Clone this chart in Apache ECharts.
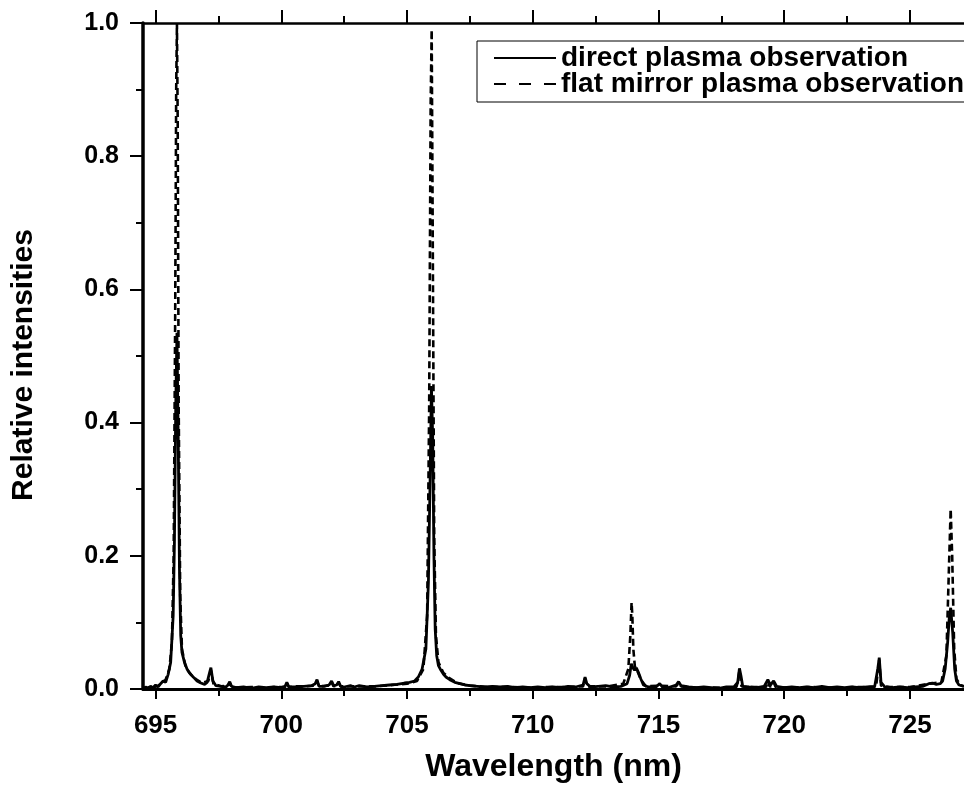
<!DOCTYPE html>
<html>
<head>
<meta charset="utf-8">
<script src="https://cdn.jsdelivr.net/npm/echarts@6/dist/echarts.min.js"></script>
<style>
html,body{margin:0;padding:0;background:#fff;}
#chart{width:964px;height:792px;}
</style>
</head>
<body>
<div id="chart"></div>
<script>
// ---- data ----
const directX = [694.50,694.60,694.70,694.80,694.90,695.00,695.10,695.20,695.30,695.40,695.50,695.60,695.70,695.75,695.80,695.85,695.90,695.95,696.00,696.05,696.15,696.25,696.35,696.45,696.55,696.65,696.80,696.95,697.05,697.15,697.20,697.28,697.40,697.60,697.80,697.88,697.95,698.02,698.20,698.50,698.80,699.10,699.40,699.70,700.00,700.15,700.22,700.30,700.60,700.90,701.20,701.35,701.42,701.50,701.70,701.90,702.00,702.08,702.20,702.28,702.36,702.50,702.75,702.90,703.10,703.40,703.70,704.00,704.30,704.60,704.90,705.10,705.30,705.45,705.60,705.75,705.85,705.92,705.97,706.02,706.07,706.12,706.18,706.25,706.35,706.45,706.55,706.70,706.90,707.10,707.30,707.50,707.80,708.10,708.40,708.70,709.00,709.30,709.60,709.90,710.20,710.50,710.80,711.10,711.40,711.70,712.00,712.08,712.15,712.30,712.60,712.90,713.20,713.50,713.75,713.85,713.92,713.98,714.05,714.12,714.20,714.30,714.40,714.60,714.90,715.05,715.15,715.40,715.70,715.80,715.90,716.20,716.50,716.80,717.10,717.40,717.70,718.00,718.15,718.22,718.28,718.35,718.60,718.90,719.20,719.35,719.45,719.58,719.70,720.00,720.30,720.60,720.90,721.20,721.50,721.80,722.10,722.40,722.70,723.00,723.30,723.60,723.72,723.78,723.85,724.00,724.30,724.60,724.90,725.20,725.50,725.75,725.90,726.05,726.20,726.30,726.40,726.50,726.56,726.62,726.70,726.78,726.85,726.95,727.15];
const directY = [0.000,0.003,0.001,0.004,0.002,0.006,0.003,0.008,0.012,0.010,0.022,0.040,0.110,0.220,0.420,0.535,0.380,0.180,0.080,0.055,0.040,0.030,0.024,0.020,0.016,0.012,0.009,0.007,0.010,0.025,0.032,0.012,0.005,0.004,0.003,0.006,0.011,0.004,0.002,0.003,0.001,0.003,0.002,0.003,0.002,0.004,0.010,0.003,0.003,0.004,0.005,0.008,0.014,0.004,0.004,0.006,0.012,0.005,0.006,0.011,0.004,0.003,0.005,0.003,0.005,0.003,0.004,0.005,0.006,0.007,0.009,0.010,0.012,0.018,0.030,0.060,0.160,0.320,0.455,0.380,0.200,0.090,0.050,0.035,0.028,0.022,0.018,0.014,0.010,0.008,0.006,0.005,0.004,0.003,0.004,0.003,0.004,0.002,0.003,0.002,0.003,0.002,0.003,0.002,0.004,0.003,0.006,0.018,0.008,0.003,0.004,0.005,0.003,0.004,0.008,0.020,0.038,0.032,0.028,0.032,0.025,0.015,0.006,0.003,0.003,0.008,0.003,0.002,0.006,0.011,0.005,0.003,0.002,0.003,0.002,0.001,0.003,0.003,0.010,0.031,0.020,0.004,0.003,0.002,0.004,0.014,0.006,0.012,0.004,0.002,0.003,0.002,0.003,0.002,0.004,0.002,0.003,0.002,0.003,0.002,0.003,0.004,0.030,0.047,0.010,0.003,0.002,0.003,0.002,0.003,0.004,0.008,0.009,0.007,0.008,0.012,0.030,0.070,0.105,0.122,0.085,0.030,0.012,0.006,0.004];

const mirrorX = [694.50,694.65,694.80,694.95,695.10,695.25,695.40,695.55,695.65,695.72,695.78,695.82,695.85,695.88,695.92,695.98,696.05,696.20,696.40,696.60,696.85,697.10,697.20,697.30,697.60,697.88,697.95,698.02,698.30,698.80,699.30,699.80,700.15,700.22,700.30,700.60,701.00,701.35,701.42,701.50,701.80,701.93,702.00,702.08,702.20,702.28,702.36,702.60,703.20,703.80,704.40,705.00,705.40,705.65,705.80,705.88,705.94,705.98,706.02,706.08,706.15,706.25,706.45,706.70,707.00,707.50,708.20,709.00,709.80,710.60,711.40,712.00,712.08,712.15,712.40,713.00,713.60,713.80,713.88,713.93,713.96,714.00,714.06,714.15,714.30,714.50,715.00,715.70,715.80,715.90,716.50,717.30,718.10,718.15,718.22,718.30,718.50,719.28,719.35,719.42,719.52,719.58,719.66,720.20,721.00,722.00,723.00,723.65,723.72,723.78,723.85,724.20,725.00,725.80,726.25,726.45,726.55,726.62,726.68,726.76,726.85,727.00,727.15];
const mirrorY = [0.002,0.001,0.004,0.003,0.005,0.009,0.014,0.030,0.070,0.200,0.560,0.900,1.000,0.850,0.420,0.140,0.060,0.032,0.022,0.015,0.009,0.012,0.028,0.008,0.004,0.005,0.009,0.003,0.002,0.003,0.002,0.003,0.003,0.009,0.003,0.004,0.004,0.005,0.012,0.004,0.005,0.005,0.010,0.004,0.005,0.009,0.004,0.004,0.004,0.004,0.006,0.008,0.012,0.030,0.110,0.420,0.880,0.990,0.700,0.230,0.080,0.040,0.024,0.016,0.009,0.005,0.003,0.003,0.002,0.003,0.003,0.004,0.016,0.004,0.004,0.004,0.008,0.030,0.080,0.130,0.110,0.060,0.034,0.028,0.014,0.004,0.005,0.004,0.009,0.004,0.002,0.002,0.003,0.010,0.028,0.004,0.003,0.003,0.012,0.004,0.004,0.010,0.003,0.002,0.003,0.002,0.003,0.003,0.025,0.044,0.005,0.003,0.003,0.008,0.010,0.050,0.180,0.270,0.200,0.060,0.015,0.006,0.004];

const xMajorTicks = [695, 700, 705, 710, 715, 720, 725];
const xMinorTicks = [697.5, 702.5, 707.5, 712.5, 717.5, 722.5];
const seriesNames = ['direct plasma observation', 'flat mirror plasma observation'];
const xTitle = 'Wavelength (nm)';
const yTitle = 'Relative intensities';

function pairs(xs, ys) { return xs.map((x, i) => [x, ys[i]]); }

const FONT = "'Liberation Sans', Arial, sans-serif";
const X_MIN = 694.5, X_MAX = 727.15;

const chart = echarts.init(document.getElementById('chart'), null, {renderer: 'canvas'});

const baseX = {
  type: 'value', min: X_MIN, max: X_MAX,
  splitLine: {show: false}, axisLabel: {show: false}, axisTick: {show: false},
  axisLine: {show: false}
};

chart.setOption({
  animation: false,
  backgroundColor: '#fff',
  grid: {left: 143, right: 0, top: 23, bottom: 103, containLabel: false},
  legend: {
    left: 477, top: 41,
    orient: 'vertical',
    padding: [3, 20, 4, 16],
    itemGap: -2,
    itemWidth: 62, itemHeight: 14,
    backgroundColor: '#fff',
    borderColor: '#000', borderWidth: 1,
    itemStyle: {opacity: 0},
    textStyle: {fontFamily: FONT, fontSize: 28, fontWeight: 'bold', color: '#000'},
    data: [
      {name: seriesNames[0], lineStyle: {type: 'solid', width: 2}},
      {name: seriesNames[1], lineStyle: {type: [12, 13], width: 2}}
    ]
  },
  xAxis: [
    Object.assign({}, baseX, {
      position: 'bottom',
      axisLine: {show: true, onZero: false, lineStyle: {color: '#000', width: 3}},
      axisTick: {show: true, inside: false, length: 10, customValues: xMajorTicks, lineStyle: {color: '#000', width: 2}},
      axisLabel: {show: true, customValues: xMajorTicks, margin: 24,
        fontFamily: FONT, fontSize: 26, fontWeight: 'bold', color: '#000'},
      name: xTitle, nameLocation: 'middle', nameGap: 62,
      nameTextStyle: {fontFamily: FONT, fontSize: 32, fontWeight: 'bold', color: '#000'}
    }),
    Object.assign({}, baseX, {
      position: 'bottom',
      axisTick: {show: true, inside: false, length: 7, customValues: xMinorTicks, lineStyle: {color: '#000', width: 2}}
    }),
    Object.assign({}, baseX, {
      position: 'top',
      axisLine: {show: true, onZero: false, lineStyle: {color: '#000', width: 2.5}},
      axisTick: {show: true, inside: false, length: 13, customValues: xMajorTicks, lineStyle: {color: '#000', width: 2}}
    }),
    Object.assign({}, baseX, {
      position: 'top',
      axisTick: {show: true, inside: false, length: 7, customValues: xMinorTicks, lineStyle: {color: '#000', width: 2}}
    })
  ],
  yAxis: {
    type: 'value', min: 0, max: 1, interval: 0.2,
    position: 'left',
    splitLine: {show: false},
    axisLine: {show: true, onZero: false, lineStyle: {color: '#000', width: 3.5}},
    axisTick: {show: true, inside: false, length: 13, lineStyle: {color: '#000', width: 2}},
    minorTick: {show: true, splitNumber: 2, length: 7, lineStyle: {color: '#000', width: 2}},
    axisLabel: {margin: 24, fontFamily: FONT, fontSize: 25, fontWeight: 'bold', color: '#000',
      formatter: v => v.toFixed(1)},
    name: yTitle, nameLocation: 'middle', nameGap: 104,
    nameTextStyle: {fontFamily: FONT, fontSize: 30, fontWeight: 'bold', color: '#000', padding: [0, 18, 0, 0]}
  },
  series: [
    {
      name: seriesNames[0], type: 'line', xAxisIndex: 0,
      data: pairs(directX, directY),
      showSymbol: false, symbol: 'none',
      lineStyle: {color: '#000', width: 2.8},
      itemStyle: {color: '#000'}
    },
    {
      name: seriesNames[1], type: 'line', xAxisIndex: 0,
      data: pairs(mirrorX, mirrorY),
      showSymbol: false, symbol: 'none',
      lineStyle: {color: '#000', width: 2.6, type: [7, 4]},
      itemStyle: {color: '#000'}
    }
  ]
});
</script>
</body>
</html>
